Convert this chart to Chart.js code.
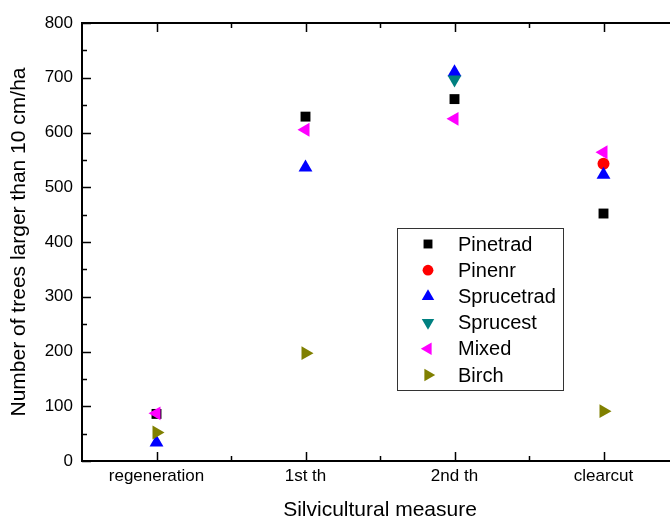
<!DOCTYPE html>
<html>
<head>
<meta charset="utf-8">
<script src="https://cdn.jsdelivr.net/npm/chart.js@4.4.0/dist/chart.umd.min.js"></script>
<style>
  html, body { margin: 0; padding: 0; background: #fff; overflow: hidden; }
  #wrap { width: 700px; height: 521px; }
</style>
</head>
<body>
<div id="wrap"><canvas id="chart-trees" width="700" height="521" style="width:700px;height:521px"></canvas></div>
<script>
var categories = ['regeneration', '1st th', '2nd th', 'clearcut']
var pinetrad = [86, 629, 661, 452]
var pinenr = [null, null, null, 543]
var sprucetrad = [34, 536, 710, 523]
var sprucest = [null, null, 697, null]
var mixed = [87, 605, 625, 564]
var birch = [52, 197, null, 91]
var yTicks = [0, 100, 200, 300, 400, 500, 600, 700, 800]

var FONT = "'Liberation Sans', Arial, sans-serif"

function series(label, data, color, style, radius, rotation, order) {
    return {
        label: label,
        data: data,
        showLine: false,
        pointStyle: style,
        pointRadius: radius,
        pointHoverRadius: radius,
        rotation: rotation,
        pointRotation: rotation,
        backgroundColor: color,
        borderColor: color,
        pointBorderWidth: 0,
        borderWidth: 0,
        order: order
    }
}

// frame with inward ticks (left, bottom, top)
var framePlugin = {
    id: 'frame',
    beforeDatasetsDraw: function(chart) {
        var ctx = chart.ctx
        var a = chart.chartArea
        var xs = chart.scales.x
        var ys = chart.scales.y
        ctx.save()
        ctx.strokeStyle = '#000'
        ctx.lineWidth = 2
        ctx.strokeRect(a.left, a.top, a.right - a.left, a.bottom - a.top)
        ctx.lineWidth = 1.5
        ctx.beginPath()
        for (var v = 0; v <= 800; v += 50) {
            var py = Math.round(ys.getPixelForValue(v)) + 0.5
            var len = v % 100 === 0 ? 9 : 5
            ctx.moveTo(a.left, py); ctx.lineTo(a.left + len, py)
        }
        for (var i = 0; i < categories.length; i++) {
            var px = Math.round(xs.getPixelForValue(i)) + 0.5
            ctx.moveTo(px, a.bottom); ctx.lineTo(px, a.bottom - 9)
            ctx.moveTo(px, a.top); ctx.lineTo(px, a.top + 9)
            if (i < categories.length - 1) {
                var mx = Math.round((xs.getPixelForValue(i) + xs.getPixelForValue(i + 1)) / 2) + 0.5
                ctx.moveTo(mx, a.bottom); ctx.lineTo(mx, a.bottom - 5)
                ctx.moveTo(mx, a.top); ctx.lineTo(mx, a.top + 5)
            }
        }
        ctx.stroke()
        ctx.restore()
    }
}

// legend box inside the plot
var legendPlugin = {
    id: 'boxLegend',
    afterDatasetsDraw: function(chart) {
        var ctx = chart.ctx
        var sets = chart.data.datasets
        var bx = 397, by = 228, bw = 166, bh = 162
        ctx.save()
        ctx.strokeStyle = '#333'
        ctx.lineWidth = 1
        ctx.strokeRect(bx + 0.5, by + 0.5, bw, bh)
        ctx.font = '20px ' + FONT
        ctx.textBaseline = 'middle'
        for (var i = 0; i < sets.length; i++) {
            var d = sets[i]
            var y = by + 16 + i * 26.2
            ctx.fillStyle = d.backgroundColor
            Chart.helpers.drawPoint(ctx, {
                pointStyle: d.pointStyle,
                radius: d.pointRadius * 0.9,
                rotation: d.rotation,
                borderWidth: 0
            }, 428, y)
            ctx.fillStyle = '#000'
            ctx.fillText(d.label, 458, y + 1)
        }
        ctx.restore()
    }
}

new Chart(document.getElementById('chart-trees').getContext('2d'), {
    type: 'line',
    data: {
        labels: categories,
        datasets: [
            series('Pinetrad', pinetrad, '#000000', 'rect', 7, 0, 6),
            series('Pinenr', pinenr, '#ff0000', 'circle', 6, 0, 5),
            series('Sprucetrad', sprucetrad, '#0000ff', 'triangle', 8, 0, 4),
            series('Sprucest', sprucest, '#008080', 'triangle', 8, 180, 3),
            series('Mixed', mixed, '#ff00ff', 'triangle', 8, -90, 2),
            series('Birch', birch, '#808000', 'triangle', 8, 90, 1)
        ]
    },
    options: {
        responsive: false,
        animation: false,
        spanGaps: false,
        layout: { padding: { left: 0, right: 22, top: 23, bottom: 0 } },
        plugins: {
            legend: { display: false },
            tooltip: { enabled: false }
        },
        scales: {
            x: {
                type: 'category',
                offset: true,
                grid: { display: false, drawTicks: false },
                border: { display: false },
                ticks: { color: '#000', font: { family: FONT, size: 17 }, padding: 5, maxRotation: 0 },
                title: {
                    display: true,
                    text: 'Silvicultural measure',
                    color: '#000',
                    font: { family: FONT, size: 21, lineHeight: 1 },
                    padding: { top: 0, bottom: 0 }
                },
                afterFit: function(scale) { scale.height = 60 }
            },
            y: {
                min: 0,
                max: 800,
                afterBuildTicks: function(scale) {
                    scale.ticks = yTicks.map(function(v) { return { value: v } })
                },
                grid: { display: false, drawTicks: false },
                border: { display: false },
                ticks: { color: '#000', font: { family: FONT, size: 17 }, padding: 9 },
                title: {
                    display: true,
                    text: 'Number of trees larger than 10 cm/ha',
                    color: '#000',
                    font: { family: FONT, size: 21, lineHeight: 1 },
                    padding: { top: 9, bottom: 0 }
                },
                afterFit: function(scale) { scale.width = 82 }
            }
        }
    },
    plugins: [framePlugin, legendPlugin]
})
</script>
</body>
</html>
